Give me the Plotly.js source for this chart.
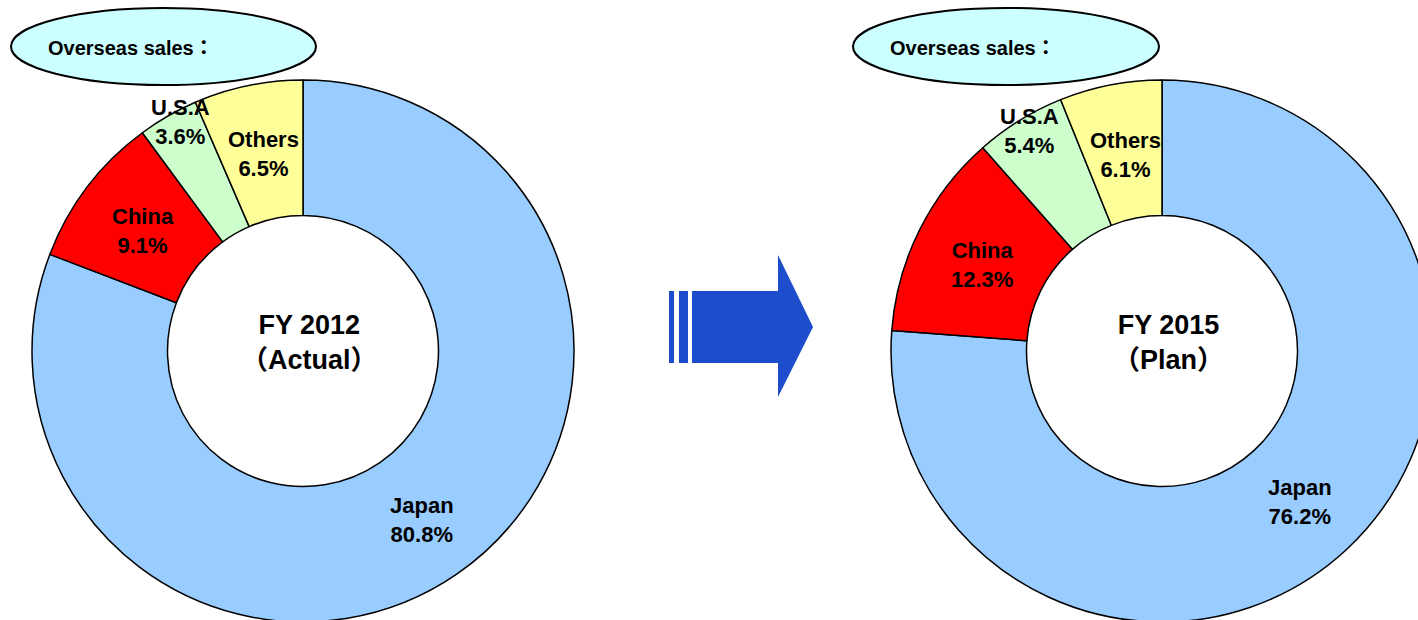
<!DOCTYPE html>
<html>
<head>
<meta charset="utf-8">
<script src="https://cdn.plot.ly/plotly-3.0.1.min.js"></script>
<style>
html, body { margin:0; padding:0; overflow:hidden; background:#fff; }
#chart { width:1440px; height:630px; }
</style>
</head>
<body>
<div id="chart"></div>
<script>
// ---- data ----
const categories = ["Japan", "China", "U.S.A", "Others"];
const fy2012Actual = [80.8, 9.1, 3.6, 6.5];
const fy2015Plan = [76.2, 12.3, 5.4, 6.1];
const chartTitles = ["FY 2012<br>（Actual）", "FY 2015<br>（Plan）"];
const calloutText = "Overseas sales：";
const sliceColors = ["#99CCFF", "#FF0000", "#CCFFCC", "#FFFF99"];

// ---- layout helpers (pixel -> paper) ----
const W = 1440, H = 630;
const px = x => x / W;
const py = y => 1 - y / H;
const FONT = "Liberation Sans, Arial, Noto Sans CJK JP, sans-serif";

// donut geometry (pixels)
const donuts = [
  {cx: 303, cy: 351, r: 271, vals: fy2012Actual, title: chartTitles[0],
   labelPos: [[422, 520], [143, 231], [180, 122], [263, 154]]},
  {cx: 1162, cy: 351, r: 271, vals: fy2015Plan, title: chartTitles[1],
   labelPos: [[1300, 502], [982, 265], [1029, 131], [1125, 155]]}
];

const traces = donuts.map(d => ({
  type: "pie",
  values: d.vals,
  labels: categories,
  sort: false,
  direction: "clockwise",
  rotation: 0,
  hole: 0.5,
  textinfo: "none",
  hoverinfo: "label+percent",
  marker: {colors: sliceColors, line: {color: "#000", width: 1.5}},
  domain: {x: [px(d.cx - d.r), px(d.cx + d.r)], y: [py(d.cy + d.r), py(d.cy - d.r)]},
  showlegend: false
}));

const annotations = [];
donuts.forEach(d => {
  categories.forEach((c, i) => {
    annotations.push({
      xref: "paper", yref: "paper",
      x: px(d.labelPos[i][0]), y: py(d.labelPos[i][1]),
      xanchor: "center", yanchor: "middle", showarrow: false, align: "center",
      text: c + "<br>" + d.vals[i].toFixed(1) + "%",
      font: {family: FONT, size: 22, color: "#000", weight: "bold"}
    });
  });
  annotations.push({
    xref: "paper", yref: "paper",
    x: px(d.cx + 6), y: py(d.cy - 9),
    xanchor: "center", yanchor: "middle", showarrow: false, align: "center",
    text: d.title,
    font: {family: FONT, size: 27, color: "#000", weight: "bold"}
  });
});

// callout ellipses
const ellipses = [{x0: 11, x1: 316, y0: 8, y1: 85}, {x0: 853, x1: 1159, y0: 8, y1: 85}];
const shapes = [];
ellipses.forEach(e => {
  shapes.push({type: "circle", xref: "paper", yref: "paper",
    x0: px(e.x0), x1: px(e.x1), y0: py(e.y1), y1: py(e.y0),
    fillcolor: "#CCFFFF", line: {color: "#000", width: 2}});
  annotations.push({xref: "paper", yref: "paper", x: px(e.x0 + 35), y: py(48),
    xanchor: "left", yanchor: "middle", showarrow: false, text: calloutText,
    font: {family: FONT, size: 20, color: "#000", weight: "bold"}});
});

// block arrow
const blue = "#1E4DCC";
[[669, 674], [679, 688], [692, 779]].forEach(b => {
  shapes.push({type: "rect", xref: "paper", yref: "paper",
    x0: px(b[0]), x1: px(b[1]), y0: py(363), y1: py(291),
    fillcolor: blue, line: {width: 0}});
});
shapes.push({type: "path", xref: "paper", yref: "paper",
  path: `M ${px(778)},${py(255)} L ${px(813)},${py(327)} L ${px(778)},${py(397)} Z`,
  fillcolor: blue, line: {width: 0}});

Plotly.newPlot("chart", traces, {
  width: W, height: H,
  margin: {l: 0, r: 0, t: 0, b: 0},
  paper_bgcolor: "#fff",
  showlegend: false,
  shapes: shapes,
  annotations: annotations
}, {displayModeBar: false, staticPlot: true});
</script>
</body>
</html>
